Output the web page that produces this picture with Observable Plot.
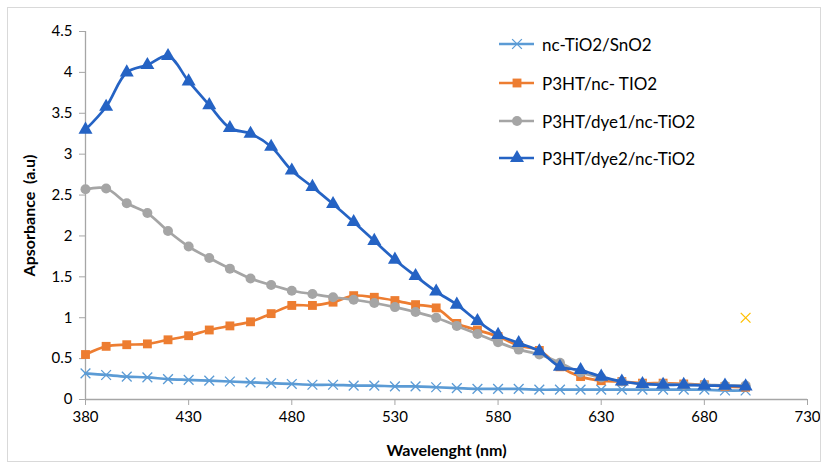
<!DOCTYPE html>
<html>
<head>
<meta charset="utf-8">
<script src="https://cdn.jsdelivr.net/npm/d3@7"></script>
<script src="https://cdn.jsdelivr.net/npm/@observablehq/plot@0.6"></script>
<style>
  html, body { margin: 0; padding: 0; background: #fff; }
  #wrap { position: relative; width: 829px; height: 466px; overflow: hidden; font-family: Lato, "Open Sans", sans-serif; }
  #frame { position: absolute; left: 7px; top: 7px; width: 814px; height: 455px; border: 1px solid #d9d9d9; box-sizing: border-box; pointer-events: none; }
  #legend { position: absolute; left: 497px; top: 30px; }
  .lg { position: absolute; left: 0; height: 20px; display: flex; align-items: center; white-space: nowrap; font-size: 17px; color: #000; }
  .lg svg { margin-right: 5px; }
</style>
</head>
<body>
<div id="wrap"><div id="chart"></div><div id="legend"></div><div id="frame"></div></div>
<script>
const wavelength = [380,390,400,410,420,430,440,450,460,470,480,490,500,510,520,530,540,550,560,570,580,590,600,610,620,630,640,650,660,670,680,690,700];
const seriesNames = ["nc-TiO2/SnO2", "P3HT/nc- TIO2", "P3HT/dye1/nc-TiO2", "P3HT/dye2/nc-TiO2"];
const tio2Sno2 = [0.32,0.30,0.28,0.27,0.25,0.24,0.23,0.22,0.21,0.20,0.19,0.18,0.18,0.17,0.17,0.16,0.16,0.15,0.14,0.13,0.13,0.13,0.12,0.12,0.12,0.12,0.12,0.12,0.12,0.12,0.12,0.11,0.11];
const p3htTio2 = [0.55,0.65,0.67,0.68,0.73,0.78,0.85,0.90,0.95,1.05,1.15,1.15,1.19,1.27,1.25,1.21,1.16,1.12,0.93,0.85,0.77,0.66,0.60,0.40,0.28,0.23,0.22,0.20,0.20,0.19,0.18,0.16,0.15];
const p3htDye1 = [2.57,2.58,2.40,2.28,2.06,1.87,1.73,1.60,1.48,1.40,1.33,1.29,1.25,1.22,1.18,1.13,1.07,1.00,0.90,0.80,0.70,0.61,0.55,0.45,0.33,0.27,0.22,0.19,0.19,0.18,0.18,0.17,0.17];
const p3htDye2 = [3.30,3.58,4.00,4.09,4.20,3.89,3.60,3.32,3.25,3.09,2.80,2.60,2.39,2.17,1.94,1.71,1.51,1.32,1.16,0.96,0.79,0.69,0.59,0.40,0.36,0.28,0.22,0.19,0.18,0.18,0.17,0.17,0.16];
const strayX = [700];
const strayY = [1.0];
const xTicks = [380,430,480,530,580,630,680,730];
const yTicks = [0,0.5,1,1.5,2,2.5,3,3.5,4,4.5];

const colors = ["#5B9BD5", "#ED7D31", "#A5A5A5", "#2563C4"];
const symbols = ["times", "square", "circle", "triangle"];
const radii = [4.5, 5, 5, 5.2];
const values = [tio2Sno2, p3htTio2, p3htDye1, p3htDye2];

const rows = [];
seriesNames.forEach((s, i) => wavelength.forEach((w, j) => rows.push({series: s, idx: i, x: w, y: values[i][j]})));
const stray = strayX.map((x, i) => ({x, y: strayY[i]}));

const marks = [
  Plot.ruleY([0], {stroke: "#a6a6a6", strokeWidth: 1.3}),
  Plot.ruleX([380], {stroke: "#a6a6a6", strokeWidth: 1.3}),
  Plot.axisX({ticks: xTicks, tickSize: 6, tickPadding: 6, stroke: "#a6a6a6", fontSize: 15, label: "Wavelenght (nm)", labelArrow: "none", labelAnchor: "center", labelOffset: 56, tickFormat: d => String(d)}),
  Plot.axisY({ticks: yTicks, tickSize: 6, tickPadding: 7, stroke: "#a6a6a6", fontSize: 15, label: "Apsorbance  (a.u)", labelArrow: "none", labelAnchor: "center", labelOffset: 62, tickFormat: d => String(d)})
];
seriesNames.forEach((s, i) => {
  const d = rows.filter(r => r.idx === i);
  marks.push(Plot.line(d, {x: "x", y: "y", stroke: colors[i], strokeWidth: 2.7, curve: "catmull-rom"}));
  if (symbols[i] === "times") {
    marks.push(Plot.dot(d, {x: "x", y: "y", symbol: "times", r: radii[i], stroke: colors[i], strokeWidth: 1.3}));
  } else {
    marks.push(Plot.dot(d, {x: "x", y: "y", symbol: symbols[i], r: radii[i], fill: colors[i], stroke: "none"}));
  }
});
marks.push(Plot.dot(stray, {x: "x", y: "y", symbol: "times", r: 4.5, stroke: "#FFC000", strokeWidth: 1.3}));

const chart = Plot.plot({
  width: 829, height: 466,
  marginLeft: 85, marginRight: 22, marginTop: 31, marginBottom: 67,
  style: {fontFamily: "Lato, 'Open Sans', sans-serif", fontSize: "15px", color: "#000", background: "#fff"},
  x: {domain: [380, 730]},
  y: {domain: [0, 4.5]},
  marks
});
chart.querySelectorAll("[aria-label='x-axis label'] text, [aria-label='y-axis label'] text").forEach(t => {
  t.setAttribute("font-weight", "bold");
  t.setAttribute("font-size", "16");
  t.textContent = t.textContent.replace(/\s*[→↑←↓]\s*/g, "").replace(/^\s+|\s+$/g, "");
});
document.getElementById("chart").appendChild(chart);

const legend = document.getElementById("legend");
const legendY = [4, 43, 81, 118];
seriesNames.forEach((s, i) => {
  const div = document.createElement("div");
  div.className = "lg";
  div.style.top = legendY[i] + "px";
  const svg = d3.create("svg").attr("width", 40).attr("height", 20);
  svg.append("line").attr("x1", 2).attr("x2", 37).attr("y1", 10).attr("y2", 10).attr("stroke", colors[i]).attr("stroke-width", 2.7);
  const symMap = {times: d3.symbolTimes, square: d3.symbolSquare, circle: d3.symbolCircle, triangle: d3.symbolTriangle};
  const size = Math.PI * radii[i] * radii[i];
  const p = svg.append("path").attr("transform", "translate(20,10)").attr("d", d3.symbol(symMap[symbols[i]], size)());
  if (symbols[i] === "times") p.attr("fill", "none").attr("stroke", colors[i]).attr("stroke-width", 1.3);
  else p.attr("fill", colors[i]);
  div.appendChild(svg.node());
  const span = document.createElement("span");
  span.textContent = s;
  div.appendChild(span);
  legend.appendChild(div);
});
</script>
</body>
</html>
